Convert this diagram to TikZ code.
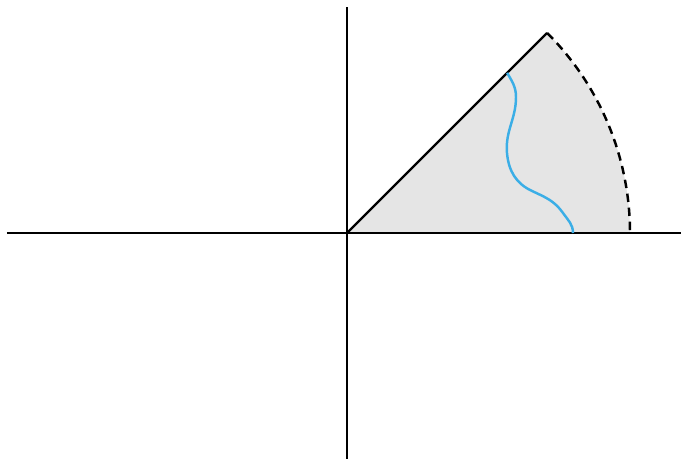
\documentclass[tikz,border=0pt]{standalone}
\usepackage{tikz}
\definecolor{Shade}{HTML}{E5E5E5}
\definecolor{Curve}{HTML}{3BAEE6}
\begin{document}
\begin{tikzpicture}[
  axis/.style={line width=0.7pt,draw=black},
  edge/.style={line width=0.7pt,draw=black},
  rim/.style={line width=0.7pt,draw=black,dash pattern=on 2.4pt off 1.6pt},
  path/.style={line width=0.7pt,draw=Curve}
]
\useasboundingbox (-3.47,-2.26) rectangle (3.34,2.33);
% sector
\fill[Shade] (0,0) -- (0:2.83) arc[start angle=0,end angle=45,radius=2.83] -- cycle;
% axes
\coordinate (o) at (0,0);
\coordinate (xl) at (-3.40,0);
\coordinate (xr) at (3.34,0);
\coordinate (yb) at (0,-2.26);
\coordinate (yt) at (0,2.26);
\draw[axis] (xl) -- (xr);
\draw[axis] (yb) -- (yt);
% boundary
\coordinate (tip) at (45:2.83);
\draw[edge] (o) -- (tip);
\draw[rim] (tip) arc[start angle=45,end angle=0,radius=2.83];
% wavy curve
\draw[path] (45:2.265) to[out=-60,in=90] (1.69,1.36)
  to[out=-90,in=95] (1.60,0.80)
  to[out=-85,in=155] (1.85,0.42)
  to[out=-25,in=125] (2.16,0.20)
  to[out=-55,in=90] (2.26,0);
\end{tikzpicture}
\end{document}
